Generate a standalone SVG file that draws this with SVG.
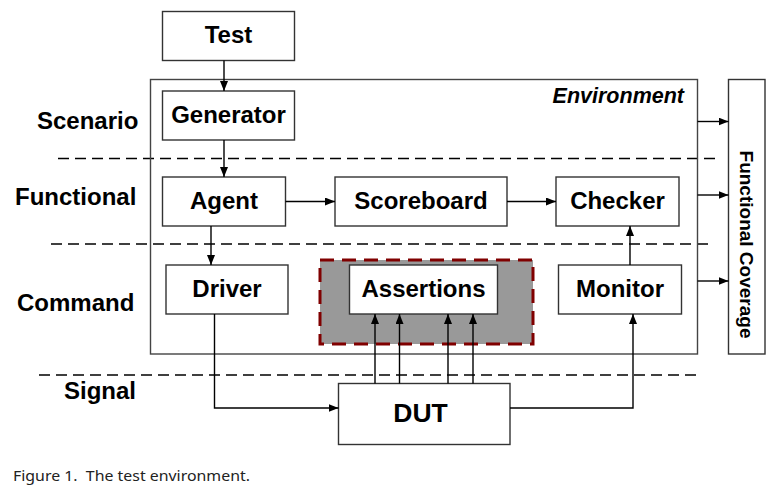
<svg xmlns="http://www.w3.org/2000/svg" width="772" height="491" viewBox="0 0 772 491">
<defs>
<marker id="ah" viewBox="0 0 10 8" refX="10" refY="4" markerWidth="10" markerHeight="8" markerUnits="userSpaceOnUse" orient="auto">
<path d="M0,0 L10,4 L0,8 Z" fill="#000"/>
</marker>
<style>
.box{fill:#fff;stroke:#333;stroke-width:1.4}
.t{font-family:"Liberation Sans",Arial,sans-serif;font-weight:bold;font-size:24px;fill:#000;text-anchor:middle}
.lbl{font-family:"Liberation Sans",Arial,sans-serif;font-weight:bold;font-size:24px;fill:#000}
.dash{stroke:#000;stroke-width:1.5;stroke-dasharray:11 6;fill:none}
.c{stroke:#000;stroke-width:1.4;fill:none;marker-end:url(#ah)}
</style>
</defs>
<rect width="772" height="491" fill="#fff"/>

<!-- layer separators -->
<g id="separators">
<line class="dash" x1="58" y1="158.5" x2="720" y2="158.5"/>
<line class="dash" x1="51" y1="244" x2="714" y2="244"/>
<line class="dash" x1="39" y1="375" x2="702" y2="375"/>
</g>

<!-- layer labels -->
<g id="layer-labels">
<text class="lbl" x="37" y="129">Scenario</text>
<text class="lbl" x="15" y="205">Functional</text>
<text class="lbl" x="17" y="311">Command</text>
<text class="lbl" x="64" y="399">Signal</text>
</g>

<g id="environment">
<rect x="150.5" y="79.5" width="547" height="274.5" fill="none" stroke="#444" stroke-width="1.4"/>
<text x="684" y="103" font-family="Liberation Sans,Arial,sans-serif" font-weight="bold" font-style="italic" font-size="21.5" text-anchor="end">Environment</text>
</g>

<g id="assertions-region">
<rect x="320" y="260" width="213" height="84" fill="#999" stroke="#800000" stroke-width="3" stroke-dasharray="14 8"/>
</g>

<g id="test"><rect class="box" x="162.5" y="11.5" width="132" height="49"/><text class="t" x="228.5" y="43">Test</text></g>
<g id="generator"><rect class="box" x="162.5" y="91" width="132" height="49"/><text class="t" x="228.5" y="123">Generator</text></g>
<g id="agent"><rect class="box" x="162.5" y="177" width="123" height="49"/><text class="t" x="224" y="209">Agent</text></g>
<g id="scoreboard"><rect class="box" x="335" y="177" width="172" height="49"/><text class="t" x="421" y="209">Scoreboard</text></g>
<g id="checker"><rect class="box" x="556" y="177" width="123" height="49"/><text class="t" x="617.5" y="209">Checker</text></g>
<g id="driver"><rect class="box" x="166" y="265" width="122" height="49"/><text class="t" x="227" y="297">Driver</text></g>
<g id="assertions"><rect class="box" x="349.5" y="265" width="148" height="49"/><text class="t" x="423.5" y="297">Assertions</text></g>
<g id="monitor"><rect class="box" x="558.5" y="265" width="123" height="49"/><text class="t" x="620" y="297">Monitor</text></g>
<g id="dut"><rect class="box" x="338.5" y="383.5" width="171.5" height="61"/><text class="t" x="420.5" y="422" style="font-size:26.5px">DUT</text></g>
<g id="functional-coverage"><rect class="box" x="728.5" y="79.5" width="36.5" height="274.5"/><text class="t" style="font-size:19px" transform="translate(739.5,244.5) rotate(90)" x="0" y="0">Functional Coverage</text></g>

<g id="connectors">
<line class="c" x1="224" y1="60.5" x2="224" y2="91"/>
<line class="c" x1="224" y1="140" x2="224" y2="177"/>
<line class="c" x1="285.5" y1="201.5" x2="335" y2="201.5"/>
<line class="c" x1="507" y1="201.5" x2="556" y2="201.5"/>
<line class="c" x1="211" y1="226" x2="211" y2="265"/>
<line class="c" x1="630" y1="265" x2="630" y2="226"/>
<line class="c" x1="697.5" y1="121.5" x2="728.5" y2="121.5"/>
<line class="c" x1="697.5" y1="195" x2="728.5" y2="195"/>
<line class="c" x1="697.5" y1="281" x2="728.5" y2="281"/>
<polyline class="c" points="214.5,314 214.5,408 338.5,408"/>
<polyline class="c" points="510,408 633,408 633,314"/>
<line class="c" x1="375" y1="383.5" x2="375" y2="314"/>
<line class="c" x1="399.5" y1="383.5" x2="399.5" y2="314"/>
<line class="c" x1="448" y1="383.5" x2="448" y2="314"/>
<line class="c" x1="473" y1="383.5" x2="473" y2="314"/>
</g>

<text x="13" y="481" font-family="Noto Sans,Open Sans,sans-serif" font-size="15" fill="#222" textLength="237" lengthAdjust="spacingAndGlyphs" xml:space="preserve">Figure 1.  The test environment.</text>
</svg>
